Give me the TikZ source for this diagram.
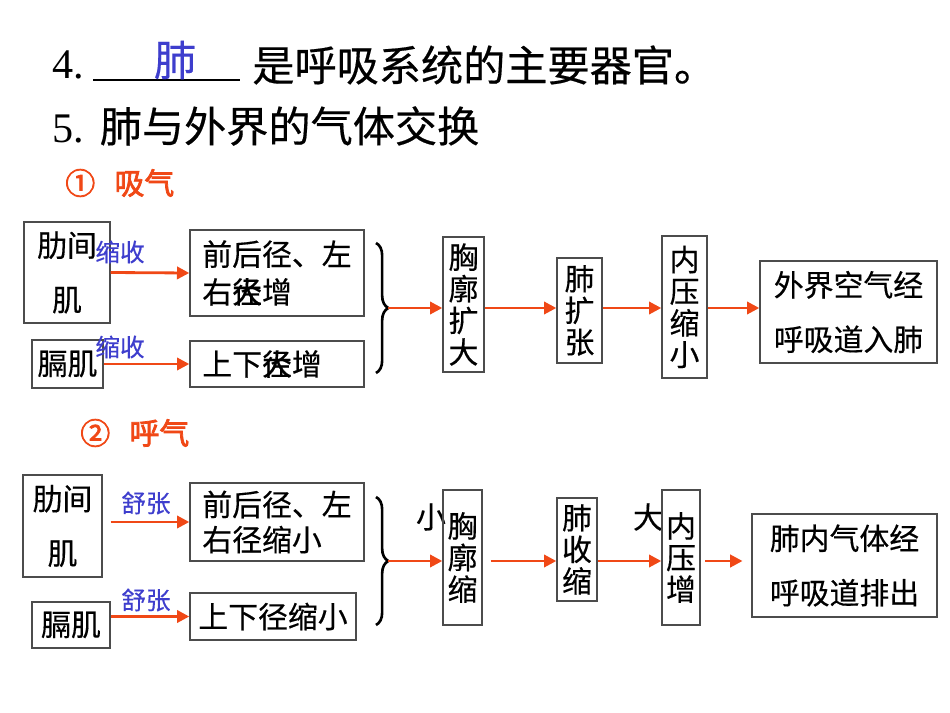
\documentclass[tikz,border=0pt]{standalone}
\usepackage{fontspec}
\setmainfont{Noto Sans CJK SC}[FakeBold=0.4, AutoFakeBold=2.5]
\newfontfamily\latn{Liberation Serif}
\usepackage{tikz}
\usetikzlibrary{arrows.meta,decorations.pathreplacing}
\definecolor{arrorange}{RGB}{240,72,22}
\definecolor{lblblue}{RGB}{62,62,205}

\begin{document}
\begin{tikzpicture}[x=0.02cm, y=-0.02cm,
    box/.style={draw=black!70, line width=0.8pt, inner sep=0pt, align=center,
                font=\fontsize{17}{19}\selectfont},
    sz/.style 2 args={minimum width=#1*0.02cm, minimum height=#2*0.02cm},
    arr/.style={arrorange, line width=1.6pt, -{Triangle[length=7pt,width=7pt]}},
    lbl/.style={lblblue, font=\fontsize{14}{16}\selectfont},
    title/.style={anchor=west, inner sep=0pt, font=\fontsize{24}{28}\selectfont},
    head/.style={anchor=west, inner sep=0pt, arrorange, font=\fontsize{17}{19}\selectfont\bfseries},
    word/.style={inner sep=0pt, font=\fontsize{17}{19}\selectfont},
    brc/.style={decorate, decoration={brace, amplitude=7pt}, line width=1.5pt}]
  \useasboundingbox (0,0) rectangle (950,713);

  % questions
  \node[title] (n4) at (52,65) {\latn 4.};
  \draw[line width=1.4pt] (93,80) -- (240,80);
  \node[title, anchor=center, text=lblblue] (ans) at (175,60) {肺};
  \node[title] (q4) at (252,65) {是呼吸系统的主要器官。};
  \node[title] (q5) at (52,126) {{\latn 5.}\hspace{9pt}肺与外界的气体交换};

  % inhale
  \node[head] (h1) at (65,183) {①\hspace{11pt}吸气};
  \node[box, sz={86}{101}] (rib1) at (67,272.5) {肋间\\[12pt]肌};
  \node[box, sz={71}{48}] (dia1) at (67.5,364) {膈肌};
  \node[lbl] (c1) at (120,252) {缩收};
  \node[lbl] (c2) at (120,347) {缩收};
  \node[box, sz={174}{86}] (front1) at (277,273) {前后径、左\\[2.5pt]右\rlap{径}大增\phantom{左左}};
  \node[box, sz={174}{46}] (updown1) at (277,364) {上下\rlap{径}大增\phantom{左}};
  \draw[brc] (376,243) -- (376,373);
  \coordinate (br1) at (388,308);
  \node[box, sz={41}{135}] (chest1) at (463.5,304.5) {胸\\[-1pt]廓\\[-1pt]扩\\[-1pt]大};
  \node[box, sz={45}{105}] (lung1) at (579.5,310.5) {肺\\[-1pt]扩\\[-1pt]张};
  \node[box, sz={45}{142}] (pres1) at (684.5,307) {内\\[-1pt]压\\[-1pt]缩\\[-1pt]小};
  \node[box, sz={177}{102}] (out1) at (848.5,312) {外界空气经\\[12pt]呼吸道入肺};

  \draw[arr] (rib1.east) -- (front1.west);
  \draw[arr] (dia1.east) -- (updown1.west);
  \draw[arr] (br1) -- (chest1.west |- br1);
  \draw[arr] (chest1.east |- br1) -- (lung1.west |- br1);
  \draw[arr] (lung1.east |- br1) -- (pres1.west |- br1);
  \draw[arr] (pres1.east |- br1) -- (out1.west |- br1);

  % exhale
  \node[head] (h2) at (80,433) {②\hspace{11pt}呼气};
  \node[box, sz={79}{102}] (rib2) at (62.5,526) {肋间\\[12pt]肌};
  \node[box, sz={78}{46}] (dia2) at (71,625) {膈肌};
  \node[lbl] (s1) at (146,503) {舒张};
  \node[lbl] (s2) at (146,600) {舒张};
  \node[box, sz={174}{78}] (front2) at (277,522) {前后径、左\\[1pt]右径缩小\phantom{左}};
  \node[box, sz={166}{47}] (updown2) at (273,616.5) {上下径缩小};
  \draw[brc] (376,497) -- (376,625);
  \coordinate (br2) at (388,561);
  \node[word] (small) at (431,517) {小};
  \node[word] (big) at (648,517) {大};
  \node[box, sz={39}{135}] (chest2) at (462.5,557.5) {胸\\[-1pt]廓\\[-1pt]缩};
  \node[box, sz={40}{103}] (lung2) at (577,549.5) {肺\\[-1pt]收\\[-1pt]缩};
  \node[box, sz={38}{135}] (pres2) at (681,557.5) {内\\[-1pt]压\\[-1pt]增};
  \node[box, sz={185}{103}] (out2) at (844.5,565.5) {肺内气体经\\[12pt]呼吸道排出};

  \draw[arr, shorten <=4.5pt] (rib2.east |- front2) -- (front2.west);
  \draw[arr] (dia2.east |- updown2) -- (updown2.west);
  \draw[arr] (br2) -- (chest2.west |- br2);
  \draw[arr, shorten <=4.5pt] (chest2.east |- br2) -- (lung2.west |- br2);
  \draw[arr] (lung2.east |- br2) -- (pres2.west |- br2);
  \draw[arr, shorten <=2.5pt, shorten >=5pt] (pres2.east |- br2) -- (out2.west |- br2);
\end{tikzpicture}
\end{document}
